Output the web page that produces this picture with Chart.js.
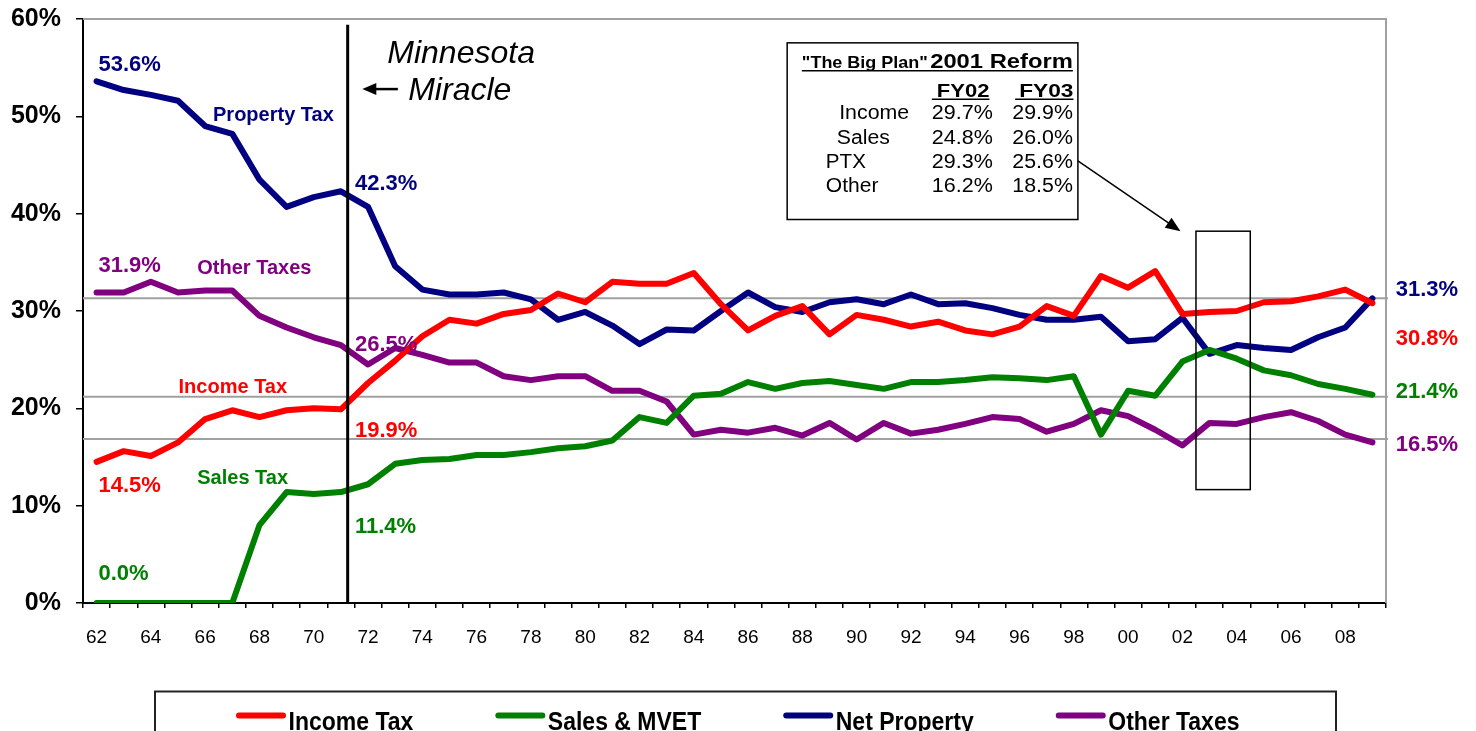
<!DOCTYPE html>
<html>
<head>
<meta charset="utf-8">
<script src="https://cdn.jsdelivr.net/npm/chart.js@4.4.1/dist/chart.umd.min.js"></script>
<style>
  body { margin: 0; background: #fff; }
  #wrap { width: 1476px; height: 731px; }
</style>
</head>
<body>
<div id="wrap"><canvas id="myChart" width="1476" height="731"></canvas></div>
<script>
var years = ['62', '63', '64', '65', '66', '67', '68', '69', '70', '71',
    '72', '73', '74', '75', '76', '77', '78', '79', '80', '81',
    '82', '83', '84', '85', '86', '87', '88', '89', '90', '91',
    '92', '93', '94', '95', '96', '97', '98', '99', '00', '01',
    '02', '03', '04', '05', '06', '07', '08', '09'];

var incomeTax = [14.5, 15.6, 15.1, 16.5, 18.9, 19.8, 19.1, 19.8, 20.0, 19.9,
    22.6, 24.9, 27.4, 29.1, 28.7, 29.7, 30.1, 31.8, 30.9, 33.0,
    32.8, 32.8, 33.9, 30.7, 28.0, 29.5, 30.5, 27.6, 29.6, 29.1,
    28.4, 28.9, 28.0, 27.6, 28.4, 30.5, 29.5, 33.6, 32.4, 34.1,
    29.7, 29.9, 30.0, 30.9, 31.0, 31.5, 32.2, 30.8];

var salesTax = [0, 0, 0, 0, 0, 0, 8.0, 11.4, 11.2, 11.4,
    12.2, 14.3, 14.7, 14.8, 15.2, 15.2, 15.5, 15.9, 16.1, 16.7,
    19.1, 18.5, 21.3, 21.5, 22.7, 22.0, 22.6, 22.8, 22.4, 22.0,
    22.7, 22.7, 22.9, 23.2, 23.1, 22.9, 23.3, 17.3, 21.8, 21.3,
    24.8, 26.0, 25.1, 23.9, 23.4, 22.5, 22.0, 21.4];

var propertyTax = [53.6, 52.7, 52.2, 51.6, 49.0, 48.2, 43.5, 40.7, 41.7, 42.3,
    40.7, 34.6, 32.2, 31.7, 31.7, 31.9, 31.2, 29.1, 29.9, 28.5,
    26.6, 28.1, 28.0, 30.0, 31.9, 30.4, 29.9, 30.9, 31.2, 30.7,
    31.7, 30.7, 30.8, 30.3, 29.6, 29.1, 29.1, 29.4, 26.9, 27.1,
    29.3, 25.6, 26.5, 26.2, 26.0, 27.3, 28.3, 31.3];

var otherTaxes = [31.9, 31.9, 33.0, 31.9, 32.1, 32.1, 29.5, 28.3, 27.3, 26.5,
    24.5, 26.2, 25.5, 24.7, 24.7, 23.3, 22.9, 23.3, 23.3, 21.8,
    21.8, 20.7, 17.3, 17.8, 17.5, 18.0, 17.2, 18.5, 16.8, 18.5,
    17.4, 17.8, 18.4, 19.1, 18.9, 17.6, 18.4, 19.8, 19.2, 17.8,
    16.2, 18.5, 18.4, 19.1, 19.6, 18.7, 17.3, 16.5];

var refLines = [31.3, 21.2, 16.85];

var planRows = ['Income', 'Sales', 'PTX', 'Other'];
var planFY02 = ['29.7%', '24.8%', '29.3%', '16.2%'];
var planFY03 = ['29.9%', '26.0%', '25.6%', '18.5%'];

var RED = '#FF0000', GREEN = '#008000', NAVY = '#000080', PURPLE = '#800080';
var FONT = '"Liberation Sans", Arial, sans-serif';

// text helper: optional target width squeezes/stretches the text horizontally
function txt(ctx, s, x, y, font, color, w, align) {
    ctx.font = font;
    ctx.fillStyle = color;
    var m = ctx.measureText(s).width;
    var sx = w ? w / m : 1;
    ctx.save();
    ctx.translate(align === 'right' ? x - m * sx : x, y);
    ctx.scale(sx, 1);
    ctx.textAlign = 'left';
    ctx.textBaseline = 'alphabetic';
    ctx.fillText(s, 0, 0);
    ctx.restore();
}

function arrow(ctx, x1, y1, x2, y2, lw, head, half) {
    var a = Math.atan2(y2 - y1, x2 - x1);
    ctx.strokeStyle = '#000';
    ctx.fillStyle = '#000';
    ctx.lineWidth = lw;
    ctx.beginPath();
    ctx.moveTo(x1, y1);
    ctx.lineTo(x2 - Math.cos(a) * head * 0.8, y2 - Math.sin(a) * head * 0.8);
    ctx.stroke();
    ctx.beginPath();
    ctx.moveTo(x2, y2);
    ctx.lineTo(x2 - Math.cos(a) * head - Math.sin(a) * half, y2 - Math.sin(a) * head + Math.cos(a) * half);
    ctx.lineTo(x2 - Math.cos(a) * head + Math.sin(a) * half, y2 - Math.sin(a) * head - Math.cos(a) * half);
    ctx.closePath();
    ctx.fill();
}

function helpers(chart) {
    var xs = chart.scales.x, ys = chart.scales.y;
    var x0 = xs.getPixelForValue(0), step = xs.getPixelForValue(1) - x0;
    return {
        X: function (i) { return x0 + i * step; },
        Y: function (v) { return ys.getPixelForValue(v); }
    };
}

var backPlugin = {
    id: 'back',
    beforeDatasetsDraw: function (chart) {
        var ctx = chart.ctx, a = chart.chartArea, h = helpers(chart);
        ctx.save();
        ctx.strokeStyle = '#a0a0a0';
        ctx.lineWidth = 2;
        refLines.forEach(function (v) {
            var y = h.Y(v);
            ctx.beginPath();
            ctx.moveTo(a.left, y);
            ctx.lineTo(a.right + 2, y);
            ctx.stroke();
        });
        ctx.beginPath();
        ctx.moveTo(a.left, a.top);
        ctx.lineTo(a.right, a.top);
        ctx.lineTo(a.right, a.bottom);
        ctx.stroke();
        ctx.restore();
    }
};

var notes = [
    ['53.6%', 0.07, 55.5, NAVY, 'bold 22px '],
    ['Property Tax', 4.29, 50.3, NAVY, 'bold 20px '],
    ['42.3%', 9.52, 43.2, NAVY, 'bold 22px '],
    ['31.9%', 0.07, 34.8, PURPLE, 'bold 22px '],
    ['Other Taxes', 3.71, 34.5, PURPLE, 'bold 20px '],
    ['26.5%', 9.52, 26.7, PURPLE, 'bold 22px '],
    ['Income Tax', 3.02, 22.3, RED, 'bold 20px '],
    ['19.9%', 9.52, 17.9, RED, 'bold 22px '],
    ['14.5%', 0.07, 12.2, RED, 'bold 22px '],
    ['Sales Tax', 3.71, 13.0, GREEN, 'bold 20px '],
    ['11.4%', 9.52, 8.0, GREEN, 'bold 22px '],
    ['0.0%', 0.07, 3.2, GREEN, 'bold 22px '],
    ['31.3%', 47.86, 32.3, NAVY, 'bold 22px '],
    ['30.8%', 47.86, 27.3, RED, 'bold 22px '],
    ['21.4%', 47.86, 21.9, GREEN, 'bold 22px '],
    ['16.5%', 47.86, 16.4, PURPLE, 'bold 22px ']
];

var frontPlugin = {
    id: 'front',
    afterDatasetsDraw: function (chart) {
        var ctx = chart.ctx, h = helpers(chart);
        ctx.save();

        // 1971 marker line
        ctx.strokeStyle = '#000';
        ctx.lineWidth = 3;
        ctx.beginPath();
        ctx.moveTo(h.X(9.25), h.Y(59.4));
        ctx.lineTo(h.X(9.25), h.Y(0));
        ctx.stroke();

        txt(ctx, 'Minnesota', h.X(10.71), h.Y(56.7) + 11.5, 'italic 32px ' + FONT, '#000');
        txt(ctx, 'Miracle', h.X(11.48), h.Y(52.9) + 11.5, 'italic 32px ' + FONT, '#000');
        arrow(ctx, h.X(11.1), h.Y(52.8), h.X(9.79), h.Y(52.8), 2.5, 14, 6);

        // FY02-FY03 frame
        ctx.strokeStyle = '#000';
        ctx.lineWidth = 1.5;
        ctx.strokeRect(h.X(40.5), h.Y(38.2), h.X(42.5) - h.X(40.5), h.Y(11.65) - h.Y(38.2));

        // plan box
        var bx = h.X(25.44), by = h.Y(57.55);
        var bw = h.X(36.15) - bx, bh = h.Y(39.4) - by;
        ctx.fillStyle = '#fff';
        ctx.fillRect(bx, by, bw, bh);
        ctx.strokeStyle = '#000';
        ctx.lineWidth = 1.5;
        ctx.strokeRect(bx, by, bw, bh);
        txt(ctx, '"The Big Plan"', bx + 14.7, by + 25.3, 'bold 17px ' + FONT, '#000', 126);
        txt(ctx, '2001 Reform', bx + 143, by + 25.3, 'bold 21px ' + FONT, '#000', 142.7);
        txt(ctx, 'FY02', bx + 149.7, by + 54.3, 'bold 19px ' + FONT, '#000', 52.6);
        txt(ctx, 'FY03', bx + 232, by + 54.3, 'bold 19px ' + FONT, '#000', 54.3);
        ctx.lineWidth = 1.5;
        ctx.beginPath();
        ctx.moveTo(bx + 14.7, by + 28); ctx.lineTo(bx + 285.7, by + 28);
        ctx.moveTo(bx + 144.7, by + 56.5); ctx.lineTo(bx + 202.3, by + 56.5);
        ctx.moveTo(bx + 228, by + 56.5); ctx.lineTo(bx + 286.3, by + 56.5);
        ctx.stroke();
        var rowX = [52, 49.7, 38.7, 38.7], rowW = [70, 53, 40, 52.6];
        planRows.forEach(function (r, k) {
            var yb = by + 76.3 + k * 24.45;
            txt(ctx, r, bx + rowX[k], yb, '20px ' + FONT, '#000', rowW[k]);
            txt(ctx, planFY02[k], bx + 205.7, yb, '20px ' + FONT, '#000', 61, 'right');
            txt(ctx, planFY03[k], bx + 285.7, yb, '20px ' + FONT, '#000', 60.5, 'right');
        });
        arrow(ctx, bx + bw, by + 118, h.X(39.93), h.Y(38.2), 1.5, 15, 6);

        // labels on the lines
        notes.forEach(function (n) {
            var size = parseFloat(n[4].split(' ')[1]);
            txt(ctx, n[0], h.X(n[1]), h.Y(n[2]) + size * 0.358, n[4] + FONT, n[3]);
        });

        // legend
        ctx.strokeStyle = '#222';
        ctx.lineWidth = 2;
        ctx.strokeRect(155, 691.5, 1181, 60);
        var lx = 236, ly = 715.5;
        chart.data.datasets.forEach(function (ds) {
            ctx.strokeStyle = ds.borderColor;
            ctx.lineWidth = 6;
            ctx.lineCap = 'round';
            ctx.beginPath();
            ctx.moveTo(lx + 3, ly);
            ctx.lineTo(lx + 47, ly);
            ctx.stroke();
            ctx.font = 'bold 25px ' + FONT;
            var w = ctx.measureText(ds.label).width * 0.92;
            txt(ctx, ds.label, lx + 52.5, 730, 'bold 25px ' + FONT, '#000', w);
            lx += 52.5 + w + 82;
        });
        ctx.restore();
    }
};

function series(label, data, color) {
    return {
        label: label,
        data: data,
        borderColor: color,
        backgroundColor: color,
        borderWidth: 6,
        pointRadius: 0,
        tension: 0,
        borderCapStyle: 'round',
        borderJoinStyle: 'round',
        fill: false
    };
}

var ctx = document.getElementById('myChart').getContext('2d');
var chart = new Chart(ctx, {
    type: 'line',
    data: {
        labels: years,
        datasets: [
            series('Income Tax', incomeTax, RED),
            series('Sales & MVET', salesTax, GREEN),
            series('Net Property', propertyTax, NAVY),
            series('Other Taxes', otherTaxes, PURPLE)
        ]
    },
    options: {
        responsive: false,
        animation: false,
        layout: { padding: { top: 19, right: 90, left: 0, bottom: 0 } },
        plugins: { legend: { display: false }, tooltip: { enabled: false } },
        scales: {
            x: {
                type: 'category',
                offset: true,
                afterFit: function (s) { s.height = 128; },
                grid: { offset: true, drawOnChartArea: false, drawTicks: true, tickLength: 5, color: '#000', lineWidth: 1.5 },
                border: { color: '#000', width: 2 },
                ticks: {
                    autoSkip: false,
                    maxRotation: 0,
                    padding: 18,
                    color: '#000',
                    font: { family: FONT, size: 19 },
                    callback: function (v, i) { return i % 2 === 0 ? years[i] : ''; }
                }
            },
            y: {
                min: 0,
                max: 60,
                afterFit: function (s) { s.width = 83; s.paddingTop = 0; s.paddingBottom = 0; },
                grid: { drawOnChartArea: false, drawTicks: true, tickLength: 7, color: '#000', lineWidth: 1.5 },
                border: { color: '#000', width: 2 },
                ticks: {
                    stepSize: 10,
                    padding: 15,
                    color: '#000',
                    font: { family: FONT, size: 25, weight: 'bold' },
                    callback: function (v) { return v + '%'; }
                }
            }
        }
    },
    plugins: [backPlugin, frontPlugin]
});
</script>
</body>
</html>
